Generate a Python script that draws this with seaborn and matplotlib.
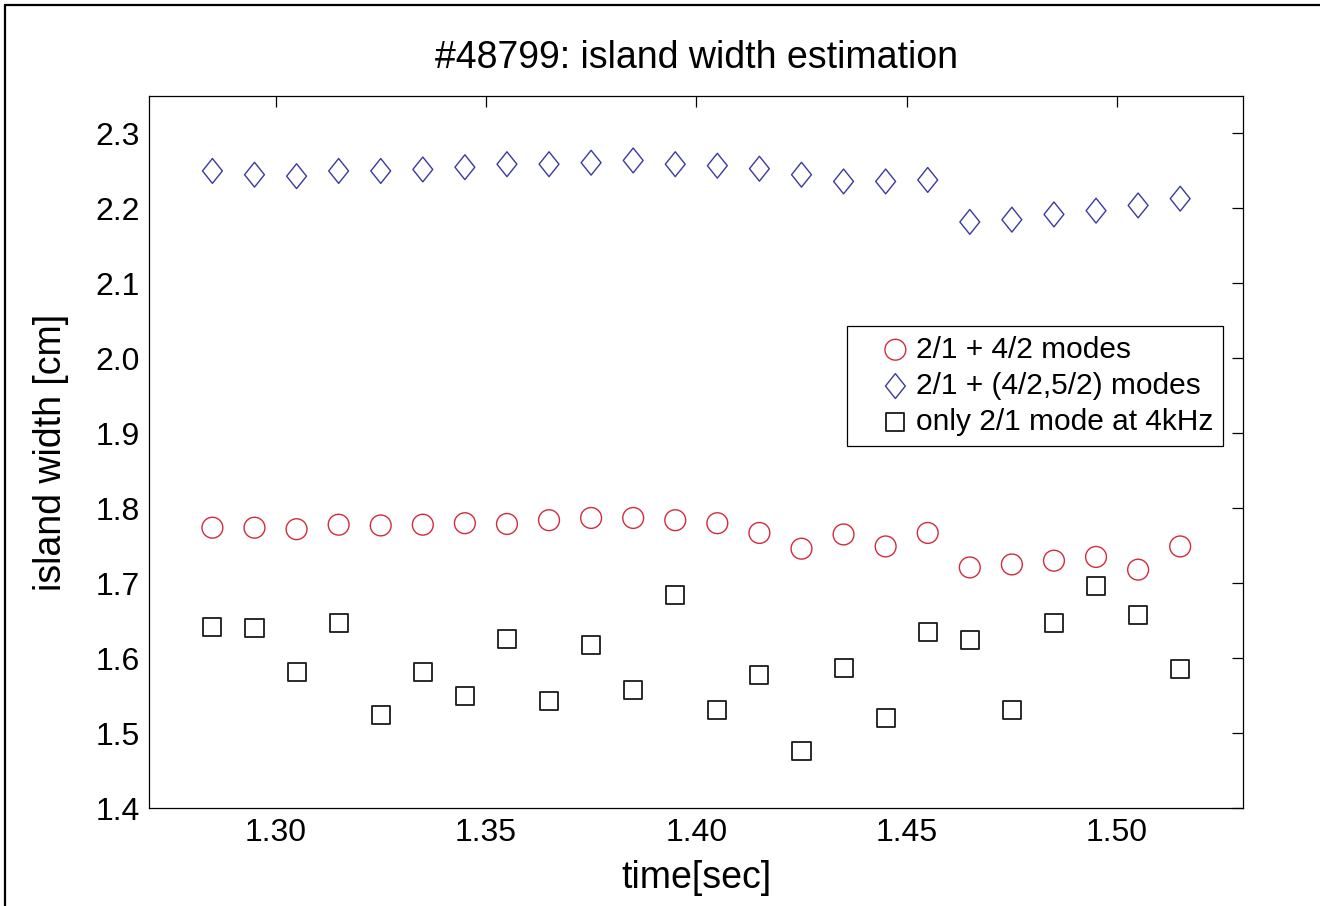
import numpy as np
import pandas as pd
import matplotlib
matplotlib.use("Agg")
import matplotlib.pyplot as plt
import seaborn as sns
from matplotlib.path import Path
from matplotlib.lines import Line2D
from matplotlib.collections import PathCollection
from matplotlib.legend_handler import HandlerPathCollection

# ---------------- data ----------------
time_sec = [1.285, 1.295, 1.305, 1.315, 1.325, 1.335, 1.345, 1.355,
            1.365, 1.375, 1.385, 1.395, 1.405, 1.415, 1.425, 1.435,
            1.445, 1.455, 1.465, 1.475, 1.485, 1.495, 1.505, 1.515]

w_21_42 = [1.774, 1.774, 1.772, 1.778, 1.777, 1.778, 1.780, 1.779,
           1.784, 1.787, 1.787, 1.784, 1.780, 1.767, 1.746, 1.765,
           1.749, 1.767, 1.721, 1.725, 1.730, 1.735, 1.718, 1.749]

w_21_42_52 = [2.250, 2.245, 2.243, 2.250, 2.250, 2.252, 2.255, 2.259,
              2.259, 2.261, 2.264, 2.259, 2.257, 2.253, 2.245, 2.236,
              2.236, 2.238, 2.182, 2.185, 2.192, 2.197, 2.204, 2.213]

w_21_only = [1.642, 1.640, 1.582, 1.647, 1.524, 1.582, 1.550, 1.626,
             1.543, 1.617, 1.557, 1.684, 1.531, 1.578, 1.476, 1.587,
             1.520, 1.635, 1.624, 1.531, 1.647, 1.696, 1.658, 1.585]

labels = ["2/1 + 4/2 modes", "2/1 + (4/2,5/2) modes", "only 2/1 mode at 4kHz"]
x_ticks = [1.30, 1.35, 1.40, 1.45, 1.50]
x_ticklabels = ["1.30", "1.35", "1.40", "1.45", "1.50"]
y_ticks = [1.4, 1.5, 1.6, 1.7, 1.8, 1.9, 2.0, 2.1, 2.2, 2.3]
y_ticklabels = ["1.4", "1.5", "1.6", "1.7", "1.8", "1.9", "2.0", "2.1", "2.2", "2.3"]

# ---------------- style ----------------
sns.set_style("white")
plt.rcParams["font.family"] = ["Liberation Sans", "DejaVu Sans"]
plt.rcParams["text.color"] = "black"
plt.rcParams["axes.labelcolor"] = "black"

fig = plt.figure(figsize=(13.2, 9.06), dpi=100)
ax = fig.add_axes([149.3 / 1320, 98 / 906, (1243.3 - 149.3) / 1320, (808 - 96) / 906])

diamond = Path([(0, 1), (0.8, 0), (0, -1), (-0.8, 0), (0, 1)],
               [Path.MOVETO, Path.LINETO, Path.LINETO, Path.LINETO, Path.CLOSEPOLY])

red = "#d42a3c"
blue = "#3a3aa0"
black = "#1a1a1a"

sns.scatterplot(x=time_sec, y=w_21_42, ax=ax, marker="o", s=225,
                facecolor="none", edgecolor=red, color=red, linewidth=1.0,
                label=labels[0], legend=False)
sns.scatterplot(x=time_sec, y=w_21_42_52, ax=ax, marker=diamond, s=320,
                facecolor="none", edgecolor=blue, color=blue, linewidth=1.0,
                label=labels[1], legend=False)
sns.scatterplot(x=time_sec, y=w_21_only, ax=ax, marker="s", s=170,
                facecolor="none", edgecolor=black, color=black, linewidth=1.3,
                label=labels[2], legend=False)

ax.set_xlim(1.27, 1.53)
ax.set_ylim(1.4, 2.35)
ax.set_xticks(x_ticks)
ax.set_xticklabels(x_ticklabels)
ax.set_yticks(y_ticks)
ax.set_yticklabels(y_ticklabels)
ax.tick_params(direction="in", length=8, width=0.9, top=True, right=True,
               labelsize=23, pad=7, colors="black")
for sp in ax.spines.values():
    sp.set_visible(True)
    sp.set_color("black")
    sp.set_linewidth(0.9)

ax.set_title("#48799: island width estimation", fontsize=27, pad=20, color="black")
ax.set_xlabel("time[sec]", fontsize=27, labelpad=9)
ax.set_ylabel("island width [cm]", fontsize=27, labelpad=19)

handles = [c for c in ax.collections if isinstance(c, PathCollection)]
leg = ax.legend(handles, labels, loc="upper left",
                bbox_to_anchor=(847 / 1320, 1 - 326 / 906),
                bbox_transform=fig.transFigure, borderaxespad=0,
                fontsize=21.5, frameon=True, fancybox=False, shadow=False,
                borderpad=0.32, labelspacing=0.28, handlelength=1.75,
                handletextpad=0.25, scatterpoints=1,
                handler_map={PathCollection: HandlerPathCollection(xpad=0.85)})
leg.get_frame().set_edgecolor("black")
leg.get_frame().set_linewidth(0.9)
leg.get_frame().set_alpha(1)

# figure frame lines (top and left)
fig.add_artist(Line2D([5 / 1320, 1.0], [1 - 5 / 906, 1 - 5 / 906],
                      transform=fig.transFigure, color="black", lw=1.6))
fig.add_artist(Line2D([5 / 1320, 5 / 1320], [1 - 5 / 906, 0.0],
                      transform=fig.transFigure, color="black", lw=1.6))

fig.savefig("out.png", dpi=100, facecolor="white")
